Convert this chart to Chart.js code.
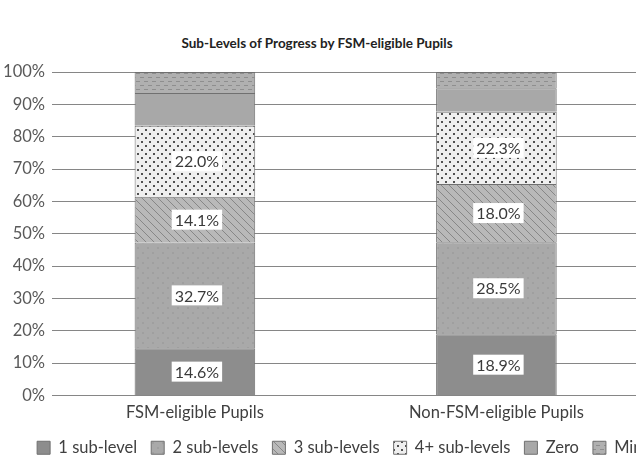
<!DOCTYPE html>
<html>
<head>
<meta charset="utf-8">
<script src="https://cdn.jsdelivr.net/npm/chart.js@4/dist/chart.umd.min.js"></script>
<style>
  body { margin: 0; background: #fff; }
  #wrap { position: relative; width: 636px; height: 463px; overflow: hidden; background: #fff; }
  #title { position: absolute; left: 0; top: 35px; width: 634px; text-align: center;
           font: bold 13.5px Lato, sans-serif; color: #222; line-height: 16px; }
  canvas { position: absolute; left: 0; top: 0; }
</style>
</head>
<body>
<div id="wrap">
  <div id="title">Sub-Levels of Progress by FSM-eligible Pupils</div>
  <canvas id="chart" width="696" height="463"></canvas>
</div>
<script>
// groups on the x axis
const groups = ['FSM-eligible Pupils', 'Non-FSM-eligible Pupils'];
const levels = ['1 sub-level', '2 sub-levels', '3 sub-levels', '4+ sub-levels', 'Zero', 'Minus'];

// percentages, one value per group
const oneSub = [14.6, 18.9];
const twoSub = [32.7, 28.5];
const threeSub = [14.1, 18.0];
const fourPlus = [22.0, 22.3];
const zero = [10.1, 7.3];
const minus = [6.5, 5.0];

const yTicks = [0, 10, 20, 30, 40, 50, 60, 70, 80, 90, 100];

// small tiles used as fills (the original is a greyscale print)
function pattern(bg, size, draw) {
    const c = document.createElement('canvas');
    c.width = size; c.height = size;
    const g = c.getContext('2d');
    g.fillStyle = bg;
    g.fillRect(0, 0, size, size);
    if (draw) draw(g);
    return g.createPattern(c, 'repeat');
}

const fills = [
    '#8d8d8d',
    pattern('#a9a9a9', 10, g => { g.fillStyle = '#9f9f9f'; g.fillRect(2, 2, 2, 2); g.fillRect(7, 7, 2, 2); }),
    pattern('#b9b9b9', 8, g => {
        g.strokeStyle = '#878787'; g.lineWidth = 1;
        g.beginPath();
        g.moveTo(-1, -1); g.lineTo(9, 9);
        g.moveTo(-1, 7); g.lineTo(1, 9);
        g.moveTo(7, -1); g.lineTo(9, 1);
        g.stroke();
    }),
    pattern('#efefef', 8, g => { g.fillStyle = '#505050'; g.fillRect(1, 1, 2, 2); g.fillRect(5, 5, 2, 2); }),
    '#a8a8a8',
    pattern('#b0b0b0', 8, g => { g.fillStyle = '#8e8e8e'; g.fillRect(0, 1, 4, 1); g.fillRect(4, 5, 4, 1); })
];

const series = [oneSub, twoSub, threeSub, fourPlus, zero, minus];
const font = { family: 'Lato', size: 16.5 };

// white boxes with the value on the first four segments
const valueLabels = {
    id: 'valueLabels',
    afterDatasetsDraw(chart) {
        const ctx = chart.ctx;
        ctx.save();
        ctx.font = '16px Lato, sans-serif';
        ctx.textAlign = 'center';
        ctx.textBaseline = 'middle';
        for (let i = 0; i < 4; i++) {
            chart.getDatasetMeta(i).data.forEach((bar, j) => {
                const txt = series[i][j].toFixed(1) + '%';
                const p = bar.getCenterPoint();
                const w = ctx.measureText(txt).width + 6;
                ctx.fillStyle = '#fff';
                ctx.fillRect(p.x - w / 2 + 2, p.y - 10, w, 20);
                ctx.fillStyle = '#3a3a3a';
                ctx.fillText(txt, p.x + 2, p.y + 1);
            });
        }
        ctx.restore();
    }
};

const ctx = document.getElementById('chart');
const chart = new Chart(ctx, {
    type: 'bar',
    data: {
        labels: groups.map((g, i) => i),
        datasets: levels.map((name, i) => ({
            label: name,
            data: series[i],
            backgroundColor: fills[i],
            borderColor: '#707070',
            borderWidth: 1,
            barPercentage: 0.4,
            categoryPercentage: 1
        }))
    },
    options: {
        responsive: false,
        animation: false,
        layout: { padding: { left: 0, top: 72, right: 0, bottom: -3 } },
        plugins: {
            title: { display: false },
            tooltip: { enabled: false },
            legend: {
                position: 'bottom',
                align: 'center',
                labels: {
                    boxWidth: 13, boxHeight: 13, padding: 14,
                    color: '#404040',
                    font: font
                }
            }
        },
        scales: {
            x: {
                type: 'linear',
                stacked: true,
                offset: false,
                min: -0.474,
                max: 1.662,
                afterBuildTicks: s => { s.ticks = groups.map((g, i) => ({ value: i })); },
                afterFit: s => { s.height = 30; },
                ticks: {
                    callback: v => groups[v],
                    color: '#404040',
                    font: font,
                    padding: 7,
                    maxRotation: 0,
                    autoSkip: false
                },
                grid: { display: false, drawTicks: false },
                border: { display: false }
            },
            y: {
                stacked: true,
                min: 0,
                max: 100,
                afterBuildTicks: s => { s.ticks = yTicks.map(v => ({ value: v })); },
                afterFit: s => { s.width = 52; },
                ticks: {
                    callback: v => v + '%',
                    color: '#595959',
                    font: font,
                    padding: 7
                },
                grid: { color: '#868686', drawTicks: false },
                border: { display: false }
            }
        }
    },
    plugins: [valueLabels]
});
</script>
</body>
</html>
